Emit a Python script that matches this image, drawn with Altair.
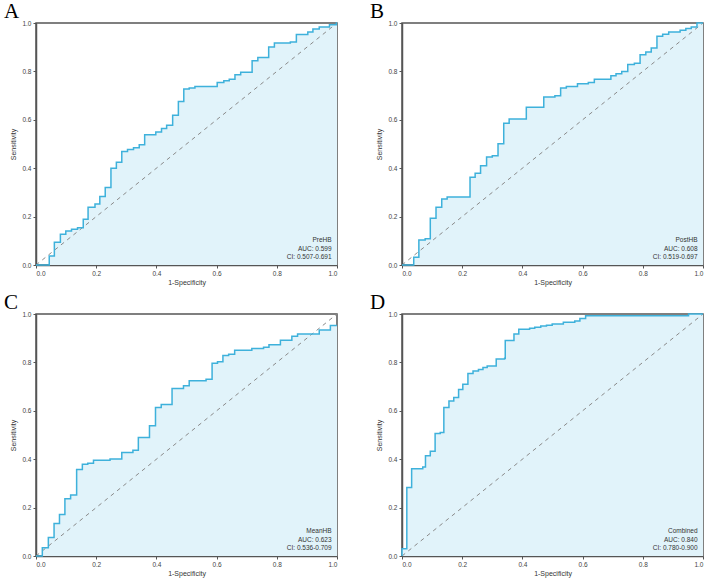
import altair as alt
import pandas as pd

# ---- data (ROC step vertices: fpr, tpr) ----
A_FPR = [0, 0.044, 0.061, 0.081, 0.099, 0.118, 0.138, 0.157, 0.173, 0.196, 0.212, 0.230, 0.249, 0.267,
         0.285, 0.304, 0.324, 0.343, 0.361, 0.398, 0.417, 0.434, 0.454, 0.473, 0.491, 0.509, 0.528,
         0.602, 0.624, 0.642, 0.661, 0.680, 0.718, 0.737, 0.773, 0.792, 0.845, 0.865, 0.903, 0.920,
         0.941, 0.975, 0.998, 1.0]
A_TPR = [0, 0.037, 0.094, 0.127, 0.141, 0.148, 0.154, 0.189, 0.239, 0.252, 0.283, 0.320, 0.400, 0.425,
         0.469, 0.477, 0.484, 0.497, 0.538, 0.550, 0.564, 0.577, 0.619, 0.676, 0.727, 0.731, 0.738,
         0.754, 0.761, 0.768, 0.786, 0.796, 0.844, 0.857, 0.901, 0.917, 0.921, 0.952, 0.963, 0.975,
         0.983, 0.993, 1.0, 1.0]

B_FPR = [0, 0.039, 0.056, 0.077, 0.094, 0.113, 0.132, 0.150, 0.226, 0.243, 0.261, 0.281, 0.300, 0.319,
         0.338, 0.356, 0.413, 0.471, 0.508, 0.527, 0.546, 0.583, 0.619, 0.639, 0.694, 0.711, 0.730,
         0.750, 0.772, 0.791, 0.810, 0.828, 0.847, 0.866, 0.886, 0.924, 0.943, 0.961, 0.980, 1.0]
B_TPR = [0, 0.032, 0.103, 0.108, 0.193, 0.239, 0.273, 0.281, 0.363, 0.379, 0.410, 0.446, 0.451, 0.501,
         0.586, 0.603, 0.652, 0.694, 0.699, 0.731, 0.738, 0.749, 0.754, 0.768, 0.782, 0.790, 0.800,
         0.828, 0.834, 0.869, 0.880, 0.897, 0.945, 0.954, 0.963, 0.970, 0.977, 0.983, 1.0, 1.0]

C_FPR = [0, 0.021, 0.041, 0.060, 0.078, 0.096, 0.115, 0.135, 0.154, 0.172, 0.191, 0.246, 0.285, 0.322,
         0.340, 0.377, 0.397, 0.416, 0.452, 0.490, 0.509, 0.565, 0.585, 0.603, 0.621, 0.640, 0.660,
         0.717, 0.756, 0.774, 0.812, 0.850, 0.869, 0.941, 0.978, 1.0]
C_TPR = [0, 0.034, 0.076, 0.134, 0.171, 0.237, 0.252, 0.357, 0.379, 0.383, 0.396, 0.401, 0.428, 0.437,
         0.490, 0.538, 0.614, 0.626, 0.692, 0.703, 0.724, 0.730, 0.796, 0.803, 0.828, 0.834, 0.850,
         0.857, 0.863, 0.873, 0.892, 0.908, 0.917, 0.934, 0.952, 0.952]

D_FPR = [0, 0, 0.016, 0.032, 0.069, 0.078, 0.094, 0.110, 0.127, 0.139, 0.156, 0.172, 0.188, 0.202,
         0.219, 0.236, 0.254, 0.269, 0.283, 0.313, 0.341, 0.343, 0.372, 0.388, 0.424, 0.441, 0.461,
         0.480, 0.499, 0.536, 0.574, 0.591, 0.610, 0.952, 1.0]
D_TPR = [0, 0.030, 0.283, 0.361, 0.368, 0.414, 0.433, 0.506, 0.510, 0.614, 0.640, 0.655, 0.688, 0.710,
         0.754, 0.764, 0.771, 0.779, 0.785, 0.814, 0.817, 0.890, 0.917, 0.937, 0.941, 0.945, 0.950,
         0.954, 0.959, 0.966, 0.971, 0.981, 0.993, 1.0, 1.0]

PANEL_LETTERS = ["A", "B", "C", "D"]
MODEL_NAMES = ["PreHB", "PostHB", "MeanHB", "Combined"]
AUC_TEXT = ["AUC: 0.599", "AUC: 0.608", "AUC: 0.623", "AUC: 0.840"]
CI_TEXT = ["CI: 0.507-0.691", "CI: 0.519-0.697", "CI: 0.536-0.709", "CI: 0.780-0.900"]
DIAG = [0.0, 1.0]
TICKS = [0, 0.2, 0.4, 0.6, 0.8, 1.0]

LINE_COLOR = "#3eb1db"
FILL_COLOR = "#e1f3fa"
W, H = 301, 242


def panel(letter, fpr, tpr, name, auc, ci):
    df = pd.DataFrame({"fpr": fpr, "tpr": tpr})
    diag = pd.DataFrame({"fpr": DIAG, "tpr": DIAG})
    notes = pd.DataFrame({"x": [0.982] * 3, "y": [0.103, 0.066, 0.031], "t": [name, auc, ci]})
    lab = pd.DataFrame({"t": [letter]})

    xs = alt.Scale(domain=[0, 1], nice=False)
    ys = alt.Scale(domain=[0, 1], nice=False)
    xax = alt.Axis(values=TICKS, format=".1f", title="1-Specificity")
    yax = alt.Axis(values=TICKS, format=".1f", title="Sensitivity")

    area = alt.Chart(df).mark_area(interpolate="step-after", color=FILL_COLOR, opacity=1).encode(
        x=alt.X("fpr:Q", scale=xs, axis=xax),
        y=alt.Y("tpr:Q", scale=ys, axis=yax),
    )
    dline = alt.Chart(diag).mark_line(color="#8a8a8a", strokeDash=[4, 4], strokeWidth=1).encode(
        x="fpr:Q", y="tpr:Q"
    )
    line = alt.Chart(df).mark_line(interpolate="step-after", color=LINE_COLOR, strokeWidth=1.5).encode(
        x="fpr:Q", y="tpr:Q"
    )
    text = alt.Chart(notes).mark_text(align="right", baseline="middle", fontSize=6.5,
                                      font="Liberation Sans", color="#333").encode(
        x="x:Q", y="y:Q", text="t:N"
    )
    letter_mark = alt.Chart(lab).mark_text(align="left", baseline="alphabetic", fontSize=21,
                                           font="Liberation Serif", color="black").encode(
        x=alt.value(-32), y=alt.value(-5), text="t:N"
    )
    return alt.layer(area, dline, line, text, letter_mark).properties(width=W, height=H)


pa = panel(PANEL_LETTERS[0], A_FPR, A_TPR, MODEL_NAMES[0], AUC_TEXT[0], CI_TEXT[0])
pb = panel(PANEL_LETTERS[1], B_FPR, B_TPR, MODEL_NAMES[1], AUC_TEXT[1], CI_TEXT[1])
pc = panel(PANEL_LETTERS[2], C_FPR, C_TPR, MODEL_NAMES[2], AUC_TEXT[2], CI_TEXT[2])
pd_ = panel(PANEL_LETTERS[3], D_FPR, D_TPR, MODEL_NAMES[3], AUC_TEXT[3], CI_TEXT[3])

chart = alt.vconcat(
    alt.hconcat(pa, pb, spacing=28),
    alt.hconcat(pc, pd_, spacing=28),
    spacing=4,
).properties(
    padding={"left": 3, "top": 0, "right": 0, "bottom": 0}
).configure_view(
    stroke="#555555", strokeWidth=1.5
).configure_axis(
    grid=False, domainColor="#555555", domainWidth=1.5, tickColor="#555555", tickSize=3,
    labelFont="Liberation Sans", labelFontSize=6.5, labelColor="#444444", labelPadding=2,
    titleFont="Liberation Sans", titleFontSize=7, titleFontWeight="normal", titleColor="#333333",
    titlePadding=2,
).configure_axisY(
    titlePadding=5
)

chart.save("out.html", embed_options={"renderer": "svg", "actions": False})
